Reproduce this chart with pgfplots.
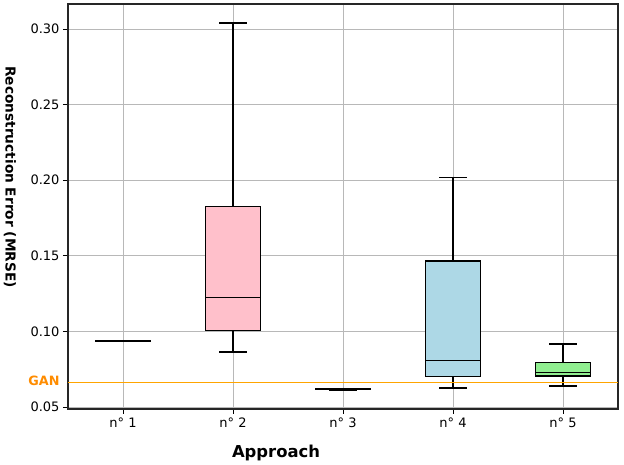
\documentclass[border=0pt]{standalone}
\usepackage{pgfplots}
\pgfplotsset{compat=1.18}
\usepackage{fontspec}
\setmainfont{DejaVu Sans}
\definecolor{boxpink}{HTML}{FFC0CB}
\definecolor{boxblue}{HTML}{ADD8E6}
\definecolor{boxgreen}{HTML}{90EE90}
\definecolor{boxgray}{HTML}{D3D3D3}
\definecolor{ganorange}{HTML}{FF8C00}
\definecolor{ganline}{HTML}{FFA500}
\pgfplotsset{
  bxfill/.style={draw=none, fill=#1},
  bxline/.style={draw=black, line width=1.4pt, line join=miter, line cap=rect},
}
\begin{document}
\begin{tikzpicture}
\begin{axis}[
  at={(0,0)}, anchor=south west,
  scale only axis, width=550pt, height=405pt,
  xmin=0.5, xmax=5.5, ymin=0.0487, ymax=0.3166,
  xtick={1,2,3,4,5},
  xticklabels={n° 1, n° 2, n° 3, n° 4, n° 5},
  ytick={0.05,0.10,0.15,0.20,0.25,0.30},
  /pgf/number format/fixed,
  /pgf/number format/fixed zerofill,
  /pgf/number format/precision=2,
  /pgf/number format/assume math mode=true,
  tick label style={font=\fontsize{13}{15}\selectfont},
  xtick pos=bottom, ytick pos=left, tick align=outside, major tick length=5pt,
  tick style={black, line width=0.8pt},
  grid=major, grid style={color=black!28, line width=0.8pt},
  axis line style={black!85, line width=1.2pt},
  clip=false,
  unbounded coords=jump,
]
% ---- box 1 ----
\addplot[bxfill=boxgray] coordinates {(0.75,0.0934) (1.25,0.0934) (1.25,0.0938) (0.75,0.0938) (0.75,0.0934)};
\addplot[bxline] coordinates {(0.75,0.0934) (1.25,0.0934) (1.25,0.0938) (0.75,0.0938) (0.75,0.0934) (nan,nan) (0.75,0.0936) (1.25,0.0936) (nan,nan) (1,0.0938) (1,0.0940) (nan,nan) (0.875,0.0940) (1.125,0.0940) (nan,nan) (1,0.0934) (1,0.0932) (nan,nan) (0.875,0.0932) (1.125,0.0932)};
% ---- box 2 ----
\addplot[bxfill=boxpink] coordinates {(1.75,0.1007) (2.25,0.1007) (2.25,0.1828) (1.75,0.1828) (1.75,0.1007)};
\addplot[bxline] coordinates {(1.75,0.1007) (2.25,0.1007) (2.25,0.1828) (1.75,0.1828) (1.75,0.1007) (nan,nan) (1.75,0.1223) (2.25,0.1223) (nan,nan) (2,0.1828) (2,0.3040) (nan,nan) (1.875,0.3040) (2.125,0.3040) (nan,nan) (2,0.1007) (2,0.0863) (nan,nan) (1.875,0.0863) (2.125,0.0863)};
% ---- box 3 ----
\addplot[bxfill=boxgray] coordinates {(2.75,0.0615) (3.25,0.0615) (3.25,0.0618) (2.75,0.0618) (2.75,0.0615)};
\addplot[bxline] coordinates {(2.75,0.0615) (3.25,0.0615) (3.25,0.0618) (2.75,0.0618) (2.75,0.0615) (nan,nan) (2.75,0.0617) (3.25,0.0617) (nan,nan) (3,0.0618) (3,0.0620) (nan,nan) (2.875,0.0620) (3.125,0.0620) (nan,nan) (3,0.0615) (3,0.0613) (nan,nan) (2.875,0.0613) (3.125,0.0613)};
% ---- box 4 ----
\addplot[bxfill=boxblue] coordinates {(3.75,0.0700) (4.25,0.0700) (4.25,0.1467) (3.75,0.1467) (3.75,0.0700)};
\addplot[bxline] coordinates {(3.75,0.0700) (4.25,0.0700) (4.25,0.1467) (3.75,0.1467) (3.75,0.0700) (nan,nan) (3.75,0.0806) (4.25,0.0806) (nan,nan) (4,0.1467) (4,0.2020) (nan,nan) (3.875,0.2020) (4.125,0.2020) (nan,nan) (4,0.0700) (4,0.0627) (nan,nan) (3.875,0.0627) (4.125,0.0627)};
% ---- box 5 ----
\addplot[bxfill=boxgreen] coordinates {(4.75,0.0704) (5.25,0.0704) (5.25,0.0795) (4.75,0.0795) (4.75,0.0704)};
\addplot[bxline] coordinates {(4.75,0.0704) (5.25,0.0704) (5.25,0.0795) (4.75,0.0795) (4.75,0.0704) (nan,nan) (4.75,0.0728) (5.25,0.0728) (nan,nan) (5,0.0795) (5,0.0918) (nan,nan) (4.875,0.0918) (5.125,0.0918) (nan,nan) (5,0.0704) (5,0.0638) (nan,nan) (4.875,0.0638) (5.125,0.0638)};
% ---- GAN reference ----
\addplot[ganline, line width=0.9pt] coordinates {(0.5,0.066) (5.5,0.066)};
\node[anchor=east, xshift=-5pt, yshift=2pt, text=ganorange, font=\bfseries\fontsize{12.8}{15}\selectfont] at (axis cs:0.5,0.066) {GAN};
\end{axis}
\node[rotate=-90, font=\bfseries\fontsize{13.7}{16}\selectfont] at (-58pt,232pt) {Reconstruction Error (MRSE)};
\node[anchor=base, font=\bfseries\fontsize{16.4}{19}\selectfont, inner sep=0pt] at (208pt,-49pt) {Approach};
\pgfresetboundingbox
\path[use as bounding box] (-68pt,-56pt) rectangle (556pt,409pt);
\end{tikzpicture}
\end{document}
